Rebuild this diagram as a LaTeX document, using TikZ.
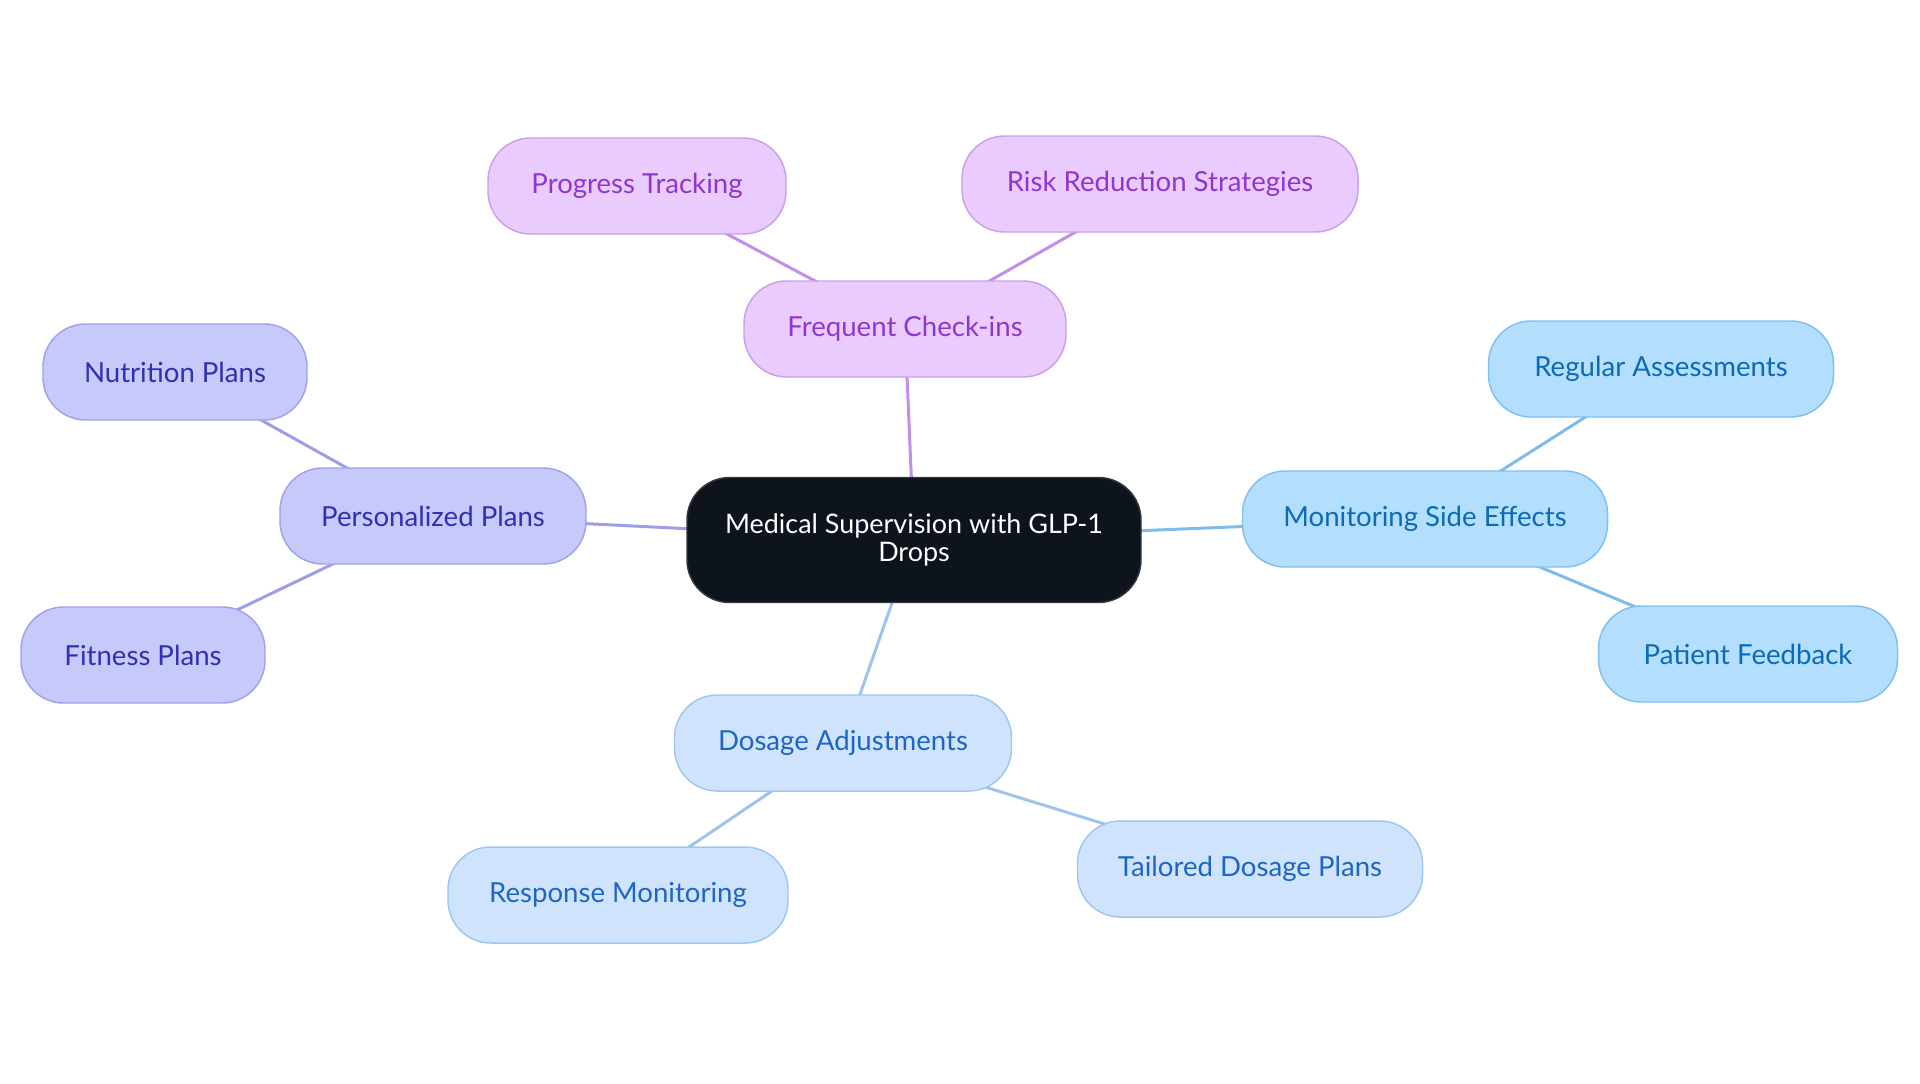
\documentclass[tikz,border=0pt]{standalone}
\usepackage{fontspec}
\setmainfont{Lato}
\usetikzlibrary{backgrounds}
\definecolor{purFill}{HTML}{E9CBFD}
\definecolor{purDraw}{HTML}{C8A0EC}
\definecolor{purText}{HTML}{9036D0}
\definecolor{purEdge}{HTML}{C28EEA}
\definecolor{indFill}{HTML}{C7C9FB}
\definecolor{indDraw}{HTML}{A0A2EE}
\definecolor{indText}{HTML}{2F30B2}
\definecolor{indEdge}{HTML}{9C9EE8}
\definecolor{skyFill}{HTML}{B3DEFD}
\definecolor{skyDraw}{HTML}{7FC0F0}
\definecolor{skyText}{HTML}{0B6BB8}
\definecolor{skyEdge}{HTML}{7EBDEB}
\definecolor{pblFill}{HTML}{CFE4FC}
\definecolor{pblDraw}{HTML}{9EC6F2}
\definecolor{pblText}{HTML}{1D66C6}
\definecolor{pblEdge}{HTML}{9DC3EE}
\definecolor{mainFill}{HTML}{0D141C}
\definecolor{mainDraw}{HTML}{33383E}
\tikzset{
  x=0.75pt, y=-0.75pt,
  boxbase/.style={rounded corners=32pt, line width=1.1pt, inner sep=0pt,
    minimum height=72pt, align=center, font=\fontsize{20.7}{21}\selectfont},
  purbox/.style={boxbase, fill=purFill, draw=purDraw, text=purText},
  indbox/.style={boxbase, fill=indFill, draw=indDraw, text=indText},
  skybox/.style={boxbase, fill=skyFill, draw=skyDraw, text=skyText},
  pblbox/.style={boxbase, fill=pblFill, draw=pblDraw, text=pblText},
  mainbox/.style={boxbase, fill=mainFill, draw=mainDraw, text=white, minimum height=93.75pt,
    font=\fontsize{20.2}{21}\selectfont},
  link/.style={line width=2.25pt}
}
\begin{document}
\begin{tikzpicture}
\useasboundingbox (0,0) rectangle (1920,1083);
\node[mainbox, minimum width=340.5pt] (main) at (914,540) {Medical Supervision with GLP-1\\Drops};
\node[purbox, minimum width=241.5pt] (fci) at (905,329) {Frequent Check-ins};
\node[purbox, minimum width=223.5pt] (pt) at (637,186) {Progress Tracking};
\node[purbox, minimum width=297pt] (rrs) at (1160,184) {Risk Reduction Strategies};
\node[indbox, minimum width=229.5pt] (pp) at (433,516) {Personalized Plans};
\node[indbox, minimum width=198pt] (np) at (175,372) {Nutrition Plans};
\node[indbox, minimum width=183pt] (fp) at (143,655) {Fitness Plans};
\node[skybox, minimum width=273.75pt] (mse) at (1425,519) {Monitoring Side Effects};
\node[skybox, minimum width=258.75pt] (ra) at (1661,369) {Regular Assessments};
\node[skybox, minimum width=224.25pt] (pf) at (1748,654) {Patient Feedback};
\node[pblbox, minimum width=252.75pt] (da) at (843,743) {Dosage Adjustments};
\node[pblbox, minimum width=255pt] (rm) at (618,895) {Response Monitoring};
\node[pblbox, minimum width=258.75pt] (tdp) at (1250,869) {Tailored Dosage Plans};
\begin{scope}[on background layer]
\draw[link, purEdge] (main.center) -- (fci.center);
\draw[link, purEdge] (fci.center) -- (pt.center);
\draw[link, purEdge] (fci.center) -- (rrs.center);
\draw[link, indEdge] (main.center) -- (pp.center);
\draw[link, indEdge] (pp.center) -- (np.center);
\draw[link, indEdge] (pp.center) -- (fp.center);
\draw[link, skyEdge] (main.center) -- (mse.center);
\draw[link, skyEdge] (mse.center) -- (ra.center);
\draw[link, skyEdge] (mse.center) -- (pf.center);
\draw[link, pblEdge] (main.center) -- (da.center);
\draw[link, pblEdge] (da.center) -- (rm.center);
\draw[link, pblEdge] (da.center) -- (tdp.center);
\end{scope}
\end{tikzpicture}
\end{document}
